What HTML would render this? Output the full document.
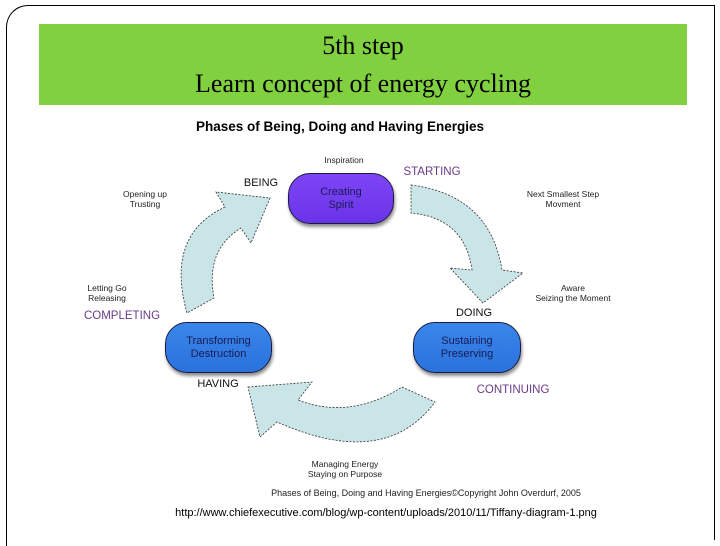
<!DOCTYPE html>
<html><head><meta charset="utf-8"><style>
body{margin:0;width:720px;height:540px;background:#fff;position:relative;overflow:hidden;font-family:"Liberation Sans",sans-serif}
.t{position:absolute;white-space:nowrap;transform:translateX(-50%);text-align:center;line-height:10px}
.s{font-size:8.5px;color:#222}
.c{font-size:11px;color:#111;line-height:12px}
.p{font-size:11.5px;color:#6a3a8a;line-height:12px}
.box{position:absolute;border-radius:22px;border:1px solid #1a1a40;display:flex;align-items:center;justify-content:center;text-align:center;font-size:11px;line-height:13px;color:#1a1a55;box-shadow:1px 3px 3px rgba(0,0,0,.45)}
</style></head><body>
<div style="position:absolute;left:6px;top:5px;width:708px;height:540px;border:1px solid #000;border-radius:22px 0 0 0;border-right:none;border-bottom:none"></div>
<div style="position:absolute;left:714px;top:5px;width:1px;height:535px;background:#000"></div>
<div style="position:absolute;left:39px;top:24px;width:648px;height:81px;background:#80d040;color:#000;font-family:'Liberation Serif',serif;font-size:26px;line-height:38px;text-align:center;padding-top:3px;box-sizing:border-box">5th step<br>Learn concept of energy cycling</div>
<div class="t" style="left:340px;top:119px;font-size:13.5px;font-weight:bold;line-height:15px">Phases of Being, Doing and Having Energies</div>
<svg style="position:absolute;left:0;top:0" width="720" height="540">
<g fill="#c9e5e8" stroke="#333" stroke-width="0.8" stroke-dasharray="2,1.5">
<path d="M411,185 Q490,195 502,270 L523,273 L483,303 L450,268 L472,270 Q465,218 411,213 Z"/>
<path d="M270,198 L251,243 L241,228 Q205,250 214,298 L187,313 Q165,235 225,207 L216,192 Z"/>
<path d="M248,387 L312,382 L298,400 Q350,420 402,387 L435,402 Q385,470 277,422 L260,437 Z"/>
</g></svg>
<div class="box" style="left:288px;top:173px;width:104px;height:49px;background:linear-gradient(#7d45f5,#6a33e8)">Creating<br>Spirit</div>
<div class="box" style="left:413px;top:322px;width:106px;height:49px;background:linear-gradient(#3a86ea,#2a72dc)">Sustaining<br>Preserving</div>
<div class="box" style="left:165px;top:322px;width:105px;height:49px;background:linear-gradient(#3a86ea,#2a72dc)">Transforming<br>Destruction</div>
<div class="t s" style="left:344px;top:155px">Inspiration</div>
<div class="t p" style="left:432px;top:166px">STARTING</div>
<div class="t c" style="left:261px;top:177px">BEING</div>
<div class="t s" style="left:145px;top:189px">Opening up<br>Trusting</div>
<div class="t s" style="left:563px;top:189px">Next Smallest Step<br>Movment</div>
<div class="t s" style="left:573px;top:283px">Aware<br>Seizing the Moment</div>
<div class="t c" style="left:474px;top:307px">DOING</div>
<div class="t s" style="left:107px;top:283px">Letting Go<br>Releasing</div>
<div class="t p" style="left:122px;top:310px">COMPLETING</div>
<div class="t c" style="left:218px;top:378px">HAVING</div>
<div class="t p" style="left:513px;top:384px">CONTINUING</div>
<div class="t s" style="left:345px;top:459px">Managing Energy<br>Staying on Purpose</div>
<div class="t s" style="left:426px;top:488px;font-size:9px">Phases of Being, Doing and Having Energies©Copyright John Overdurf, 2005</div>
<div class="t" style="left:386px;top:507px;font-size:11px;line-height:13px">http://www.chiefexecutive.com/blog/wp-content/uploads/2010/11/Tiffany-diagram-1.png</div>
</body></html>
